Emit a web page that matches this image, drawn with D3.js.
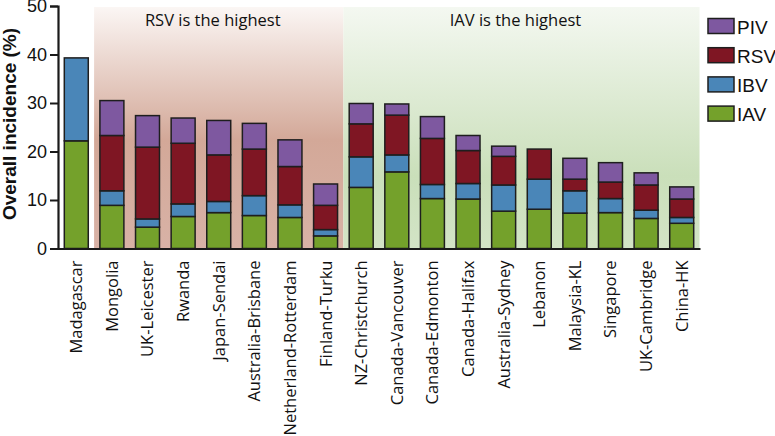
<!DOCTYPE html>
<html><head><meta charset="utf-8">
<script src="https://cdn.jsdelivr.net/npm/d3@7"></script>
<style>body{margin:0;background:#fff}</style>
</head><body><svg id="c" width="775" height="436"></svg>
<script>
const categories = ["Madagascar","Mongolia","UK-Leicester","Rwanda","Japan-Sendai","Australia-Brisbane","Netherland-Rotterdam","Finland-Turku","NZ-Christchurch","Canada-Vancouver","Canada-Edmonton","Canada-Halifax","Australia-Sydney","Lebanon","Malaysia-KL","Singapore","UK-Cambridge","China-HK"];
const IAV = [22.2, 8.9, 4.4, 6.6, 7.4, 6.8, 6.4, 2.6, 12.6, 15.8, 10.3, 10.2, 7.7, 8.1, 7.3, 7.4, 6.2, 5.2];
const IBV = [17.1, 3.0, 1.7, 2.6, 2.3, 4.1, 2.6, 1.3, 6.3, 3.5, 2.9, 3.2, 5.4, 6.2, 4.6, 2.9, 1.7, 1.2];
const RSV = [0, 11.4, 14.8, 12.5, 9.6, 9.6, 7.9, 5.0, 6.8, 8.2, 9.5, 6.8, 5.9, 6.2, 2.4, 3.4, 5.2, 3.8];
const PIV = [0, 7.2, 6.5, 5.2, 7.1, 5.3, 5.5, 4.4, 4.2, 2.3, 4.5, 3.1, 2.1, 0, 4.3, 4.0, 2.5, 2.5];
const seriesKeys = ["IAV","IBV","RSV","PIV"];
const legendKeys = ["PIV","RSV","IBV","IAV"];
const yTicks = [0,10,20,30,40,50];
const regionTitles = ["RSV is the highest","IAV is the highest"];
const colors = {IAV:"#74a12b", IBV:"#4a86b8", RSV:"#7f1623", PIV:"#7e58a0"};

const svg = d3.select("#c");
const x = d3.scaleBand().domain(categories).range([58,700]).paddingInner(0.327).paddingOuter(0.177);
const y = d3.scaleLinear().domain([0,50]).range([248.5,6]);
const gap = x.step() - x.bandwidth();

const defs = svg.append("defs");
const gp = defs.append("linearGradient").attr("id","gp").attr("x1",0).attr("y1",0).attr("x2",0).attr("y2",1);
gp.append("stop").attr("offset","0%").attr("stop-color","#fbf6f4");
gp.append("stop").attr("offset","55%").attr("stop-color","#d3a898");
gp.append("stop").attr("offset","100%").attr("stop-color","#d8b2a6");
const gg = defs.append("linearGradient").attr("id","gg").attr("x1",0).attr("y1",0).attr("x2",0).attr("y2",1);
gg.append("stop").attr("offset","0%").attr("stop-color","#f4f8f1");
gg.append("stop").attr("offset","70%").attr("stop-color","#cadfba");
gg.append("stop").attr("offset","100%").attr("stop-color","#d3e4c6");

const regions = [
  {x0: x("Mongolia") - gap/2, x1: x("Finland-Turku") + x.bandwidth() + gap/2, fill:"url(#gp)", title: regionTitles[0]},
  {x0: x("NZ-Christchurch") - gap/2, x1: x("China-HK") + x.bandwidth() + gap/2, fill:"url(#gg)", title: regionTitles[1]}
];
svg.selectAll("rect.reg").data(regions).join("rect").attr("class","reg")
  .attr("x", d=>d.x0).attr("width", d=>d.x1-d.x0)
  .attr("y", y(50)+1).attr("height", y(0)-y(50)-1).attr("fill", d=>d.fill);
svg.selectAll("text.reg").data(regions).join("text").attr("class","reg")
  .attr("x", d=>(d.x0+d.x1)/2 - 6).attr("y", 26).attr("text-anchor","middle")
  .attr("font-family","'Open Sans'").attr("font-size",16.5).attr("fill","#111").text(d=>d.title);

const table = categories.map((c,i)=>({cat:c, IAV:IAV[i], IBV:IBV[i], RSV:RSV[i], PIV:PIV[i]}));
const stacked = d3.stack().keys(seriesKeys)(table);
stacked.forEach(s=>{
  svg.append("g").selectAll("rect").data(s.filter(d=>d[1]-d[0]>0)).join("rect")
    .attr("x", d=>x(d.data.cat)).attr("width", x.bandwidth())
    .attr("y", d=>y(d[1])).attr("height", d=>y(d[0])-y(d[1]))
    .attr("fill", colors[s.key]).attr("stroke","#1e1e1e").attr("stroke-width",1.5);
});

// axes
const yAxis = svg.append("g").attr("transform","translate(58,0)")
  .call(d3.axisLeft(y).tickValues(yTicks).tickSize(8).tickPadding(3));
yAxis.select(".domain").attr("stroke","#1a1a1a").attr("stroke-width",2.2);
yAxis.selectAll(".tick line").attr("stroke","#1a1a1a").attr("stroke-width",2);
yAxis.selectAll("text").attr("font-family","Arial, 'Liberation Sans'").attr("font-size",18).attr("fill","#111");

const xAxis = svg.append("g").attr("transform",`translate(0,${y(0)})`)
  .call(d3.axisBottom(x).tickSize(0).tickSizeOuter(0));
xAxis.select(".domain").attr("stroke","#1a1a1a").attr("stroke-width",2.2);
xAxis.selectAll("text").attr("font-family","'Open Sans'").attr("font-size",16.5).attr("fill","#111")
  .attr("transform","rotate(-90)").attr("text-anchor","end")
  .attr("x",-12).attr("y",0).attr("dy","0.36em");

svg.append("text").attr("transform","translate(16,124) rotate(-90)").attr("text-anchor","middle")
  .attr("font-family","Arial, 'Liberation Sans'").attr("font-weight","bold").attr("font-size",19)
  .attr("fill","#111").text("Overall incidence (%)");

// legend
const lg = svg.append("g").selectAll("g").data(legendKeys).join("g")
  .attr("transform",(d,i)=>`translate(708,${18.5 + i*29.2})`);
lg.append("rect").attr("width",26).attr("height",15).attr("fill",d=>colors[d])
  .attr("stroke","#1e1e1e").attr("stroke-width",1.5);
lg.append("text").attr("x",29).attr("y",15).attr("font-family","Arial, 'Liberation Sans'")
  .attr("font-size",19).attr("fill","#111").text(d=>d);
</script></body></html>
